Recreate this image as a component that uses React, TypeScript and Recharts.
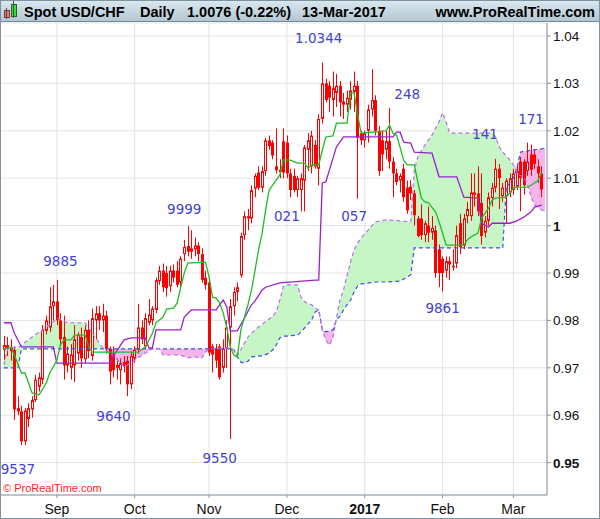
import React from "react";
import {
  ComposedChart, Bar, Line, Area, XAxis, YAxis, CartesianGrid, ReferenceDot,
} from "recharts";

// 153 daily sessions (11-Aug-2016 .. 13-Mar-2017) plus one projected cloud day
const DAYS = 154;

const monthTicks = [15, 37, 58, 80, 102, 124, 144];
const monthLabels = ["Sep", "Oct", "Nov", "Dec", "2017", "Feb", "Mar"];

const priceTicks = [0.95, 0.96, 0.97, 0.98, 0.99, 1, 1.01, 1.02, 1.03, 1.04];
const priceLabels = ["0.95", "0.96", "0.97", "0.98", "0.99", "1", "1.01", "1.02", "1.03", "1.04"];
const boldPrices = ["1", "0.95"];

// candles in pips (x 0.0001): [open, high, low, close]
const ohlc: number[][] = [
  [9738, 9767, 9716, 9748], [9748, 9765, 9725, 9740], [9742, 9760, 9715, 9735], [9738, 9745, 9590, 9612],
  [9615, 9640, 9600, 9608], [9608, 9620, 9537, 9545], [9545, 9615, 9537, 9610], [9592, 9625, 9575, 9615],
  [9612, 9640, 9595, 9632], [9632, 9685, 9628, 9675], [9660, 9690, 9650, 9680], [9675, 9790, 9665, 9780],
  [9778, 9810, 9770, 9800], [9785, 9870, 9775, 9830], [9830, 9875, 9800, 9840], [9840, 9885, 9790, 9800],
  [9800, 9815, 9745, 9760], [9765, 9810, 9675, 9705], [9705, 9745, 9690, 9730], [9700, 9750, 9675, 9728],
  [9705, 9790, 9670, 9760], [9730, 9775, 9715, 9770], [9765, 9785, 9700, 9720], [9718, 9790, 9710, 9780],
  [9780, 9800, 9720, 9735], [9725, 9825, 9715, 9805], [9800, 9830, 9760, 9815], [9815, 9830, 9780, 9800],
  [9800, 9835, 9775, 9810], [9810, 9820, 9730, 9740], [9740, 9745, 9665, 9692], [9730, 9745, 9680, 9695],
  [9700, 9720, 9675, 9706], [9695, 9720, 9665, 9710], [9712, 9725, 9690, 9705], [9715, 9725, 9640, 9665],
  [9665, 9735, 9655, 9725], [9720, 9745, 9710, 9738], [9738, 9835, 9730, 9785], [9785, 9800, 9750, 9760],
  [9745, 9815, 9740, 9805], [9795, 9845, 9790, 9812], [9800, 9830, 9790, 9825], [9822, 9890, 9815, 9885],
  [9883, 9915, 9875, 9905], [9905, 9920, 9860, 9870], [9900, 9915, 9850, 9868], [9872, 9915, 9860, 9905],
  [9905, 9918, 9880, 9890], [9905, 9925, 9870, 9875], [9880, 9935, 9870, 9930], [9940, 9970, 9925, 9955],
  [9957, 9999, 9935, 9945], [9945, 9990, 9930, 9952], [9950, 9975, 9935, 9958], [9958, 9965, 9925, 9940],
  [9940, 9952, 9880, 9885], [9890, 9905, 9865, 9875], [9880, 9890, 9725, 9732], [9745, 9750, 9690, 9728],
  [9740, 9750, 9700, 9715], [9745, 9750, 9675, 9680], [9700, 9760, 9690, 9740], [9740, 9800, 9700, 9785],
  [9785, 9845, 9550, 9830], [9830, 9870, 9810, 9860], [9860, 9880, 9840, 9870], [9895, 9985, 9890, 9978],
  [9980, 10030, 9970, 10020], [10015, 10035, 9990, 10020], [10015, 10085, 10005, 10075], [10078, 10110, 10060, 10105],
  [10112, 10125, 10075, 10080], [10080, 10125, 10070, 10115], [10115, 10185, 10105, 10180], [10180, 10190, 10160, 10168],
  [10175, 10180, 10140, 10148], [10125, 10205, 10110, 10117], [10118, 10140, 10100, 10113], [10178, 10205, 10100, 10112],
  [10175, 10190, 10100, 10110], [10110, 10120, 10060, 10075], [10105, 10120, 10070, 10075], [10075, 10105, 10060, 10100],
  [10075, 10110, 10030, 10100], [10095, 10170, 10030, 10165], [10160, 10195, 10115, 10180], [10125, 10200, 10110, 10190],
  [10170, 10180, 10120, 10125], [10120, 10235, 10085, 10225], [10225, 10344, 10215, 10300], [10300, 10310, 10260, 10265],
  [10295, 10305, 10240, 10270], [10265, 10325, 10230, 10290], [10280, 10320, 10250, 10295], [10295, 10305, 10230, 10260],
  [10255, 10280, 10225, 10262], [10255, 10285, 10240, 10270], [10265, 10305, 10245, 10285], [10282, 10325, 10240, 10295],
  [10295, 10305, 10057, 10185], [10195, 10200, 10170, 10180], [10180, 10200, 10165, 10195], [10200, 10255, 10175, 10245],
  [10245, 10330, 10230, 10265], [10265, 10275, 10190, 10200], [10200, 10210, 10105, 10115], [10180, 10200, 10115, 10150],
  [10160, 10200, 10140, 10178], [10178, 10248, 10120, 10135], [10135, 10145, 10060, 10110], [10110, 10120, 10085, 10092],
  [10095, 10110, 10070, 10105], [10120, 10130, 10050, 10060], [10080, 10095, 10025, 10032], [10082, 10096, 10054, 10068],
  [10068, 10075, 10000, 10022], [10015, 10020, 9975, 9978], [10015, 10045, 9970, 9980], [9980, 10010, 9965, 10005],
  [10000, 10040, 9965, 9985], [9985, 10020, 9970, 9995], [9990, 10000, 9890, 9900], [9950, 9960, 9870, 9900],
  [9930, 9935, 9861, 9900], [9905, 9935, 9890, 9925], [9918, 9935, 9885, 9925], [9912, 9950, 9905, 9915],
  [9920, 10000, 9910, 9980], [10005, 10025, 9940, 9955], [9958, 10025, 9950, 10015], [10020, 10050, 10005, 10035],
  [10020, 10110, 10010, 10070], [10065, 10110, 10040, 10070], [10068, 10125, 10020, 10030], [10048, 10110, 9960, 9978],
  [9985, 10020, 9975, 10010], [10010, 10070, 10000, 10060], [10058, 10090, 10040, 10080], [10080, 10141, 10070, 10120],
  [10120, 10130, 10035, 10100], [10062, 10090, 10050, 10080], [10062, 10100, 10005, 10095], [10070, 10110, 10060, 10100],
  [10075, 10120, 10065, 10110], [10082, 10125, 10075, 10115], [10135, 10145, 10030, 10100], [10135, 10140, 10065, 10085],
  [10115, 10175, 10105, 10135], [10150, 10171, 10105, 10118], [10150, 10160, 10120, 10130], [10125, 10140, 10090, 10110],
  [10110, 10125, 10060, 10076],
];

// Ichimoku lines, read at their turning points: [session, pips]
const tenkan: number[][] = [
  [0, 9740], [2, 9744], [3, 9727], [5, 9689], [6, 9689], [8, 9647], [10, 9643], [12, 9668], [13, 9689], [15, 9716],
  [16, 9748], [17, 9759], [19, 9759], [20, 9769], [23, 9769], [24, 9744], [25, 9733], [38, 9733], [40, 9744], [42, 9773],
  [43, 9795], [45, 9807], [46, 9824], [48, 9826], [49, 9837], [50, 9870], [51, 9900], [52, 9921], [57, 9923], [58, 9892],
  [59, 9849], [60, 9847], [61, 9837], [62, 9816], [63, 9786], [64, 9744], [65, 9727], [66, 9723], [67, 9780], [69, 9833],
  [70, 9864], [71, 9906], [72, 9949], [73, 9984], [74, 10033], [75, 10075], [77, 10096], [78, 10107], [79, 10138], [81, 10138],
  [83, 10132], [85, 10132], [86, 10121], [87, 10128], [89, 10128], [90, 10159], [91, 10187], [93, 10189], [94, 10216], [97, 10216],
  [98, 10280], [99, 10280], [100, 10233], [101, 10195], [108, 10200], [109, 10212], [110, 10195], [111, 10191], [113, 10138], [114, 10128],
  [116, 10128], [117, 10092], [118, 10058], [119, 10050], [120, 10048], [122, 10029], [123, 10008], [124, 9984], [125, 9959], [130, 9959],
  [131, 9970], [132, 9976], [134, 9984], [135, 10016], [137, 10037], [138, 10054], [139, 10058], [142, 10060], [144, 10079], [145, 10081],
  [148, 10081], [150, 10090], [151, 10096], [152, 10113],
];

const kijun: number[][] = [
  [0, 9795], [2, 9795], [3, 9773], [5, 9744], [14, 9744], [15, 9710], [30, 9710], [31, 9725], [33, 9748], [34, 9759],
  [36, 9763], [40, 9763], [41, 9742], [42, 9742], [43, 9780], [50, 9780], [51, 9807], [53, 9822], [60, 9822], [62, 9843],
  [63, 9829], [64, 9778], [66, 9778], [68, 9805], [70, 9833], [71, 9841], [73, 9864], [74, 9870], [78, 9879], [88, 9885],
  [89, 9885], [90, 10090], [91, 10092], [94, 10166], [96, 10187], [110, 10187], [111, 10197], [112, 10197], [113, 10176], [115, 10174],
  [116, 10155], [121, 10153], [123, 10103], [128, 10103], [130, 10060], [134, 10058], [135, 10005], [137, 9997], [138, 10005], [143, 10005],
  [145, 10010], [147, 10018], [149, 10029], [150, 10039], [152, 10043],
];

// cloud: sessions where span A / span B were read, with both spans in pips
const cloudDays = [
  0, 1, 2, 4, 5, 8, 11, 14, 15, 18,
  23, 25, 27, 28, 29, 31, 34, 36, 38, 40,
  42, 43, 44, 45, 50, 52, 54, 56, 57, 58,
  64, 65, 66, 67, 68, 69, 70, 72, 73, 75,
  76, 77, 78, 79, 80, 83, 84, 85, 87, 88,
  89, 90, 91, 92, 93, 94, 95, 96, 97, 98,
  99, 100, 101, 103, 105, 108, 112, 115, 116, 117,
  119, 121, 123, 124, 125, 126, 138, 139, 140, 141,
  142, 143, 144, 145, 146, 147, 148, 149, 150, 152,
  153,
];
const spanA = [
  9706, 9738, 9744, 9742, 9748, 9765, 9780, 9797, 9805, 9795,
  9795, 9773, 9752, 9742, 9735, 9725, 9702, 9710, 9721, 9731,
  9740, 9742, 9740, 9727, 9727, 9721, 9723, 9721, 9733, 9740,
  9742, 9738, 9727, 9738, 9752, 9765, 9773, 9786, 9792, 9803,
  9809, 9818, 9843, 9871, 9875, 9875, 9849, 9839, 9833, 9826,
  9822, 9780, 9759, 9748, 9763, 9805, 9843, 9864, 9896, 9923,
  9949, 9963, 9974, 9991, 10008, 10012, 10010, 10008, 10117, 10145,
  10170, 10191, 10219, 10238, 10219, 10195, 10195, 10187, 10166, 10155,
  10147, 10138, 10128, 10113, 10105, 10103, 10086, 10060, 10044, 10033,
  10029,
];
const spanB = [
  9700, 9700, 9700, 9700, 9740, 9740, 9740, 9740, 9740, 9740,
  9740, 9740, 9740, 9740, 9740, 9740, 9740, 9740, 9740, 9740,
  9740, 9740, 9740, 9740, 9740, 9740, 9740, 9740, 9740, 9740,
  9740, 9738, 9723, 9712, 9710, 9714, 9723, 9725, 9725, 9731,
  9738, 9748, 9763, 9767, 9767, 9769, 9776, 9784, 9801, 9818,
  9822, 9780, 9776, 9778, 9780, 9801, 9809, 9822, 9833, 9843,
  9860, 9873, 9877, 9879, 9881, 9881, 9883, 9896, 9953, 9953,
  9953, 9953, 9953, 9953, 9953, 9953, 9953, 9953, 9953, 9953,
  10081, 10090, 10100, 10122, 10155, 10157, 10157, 10160, 10160, 10162,
  10164,
];

// swing annotations: [session, level in pips, text]
const swings: [number, number, string][] = [
  [4, 9487, "9537"], [16, 9925, "9885"], [31, 9598, "9640"], [51, 10035, "9999"],
  [61, 9510, "9550"], [80, 10020, "021"], [89, 10396, "1.0344"], [99, 10020, "057"],
  [114, 10278, "248"], [124, 9826, "9861"], [136, 10193, "141"], [149, 10225, "171"],
];

const pip = (v: number) => v / 10000;
const tenkanAt = new Map(tenkan.map(([d, v]) => [d, pip(v)]));
const kijunAt = new Map(kijun.map(([d, v]) => [d, pip(v)]));

const data = Array.from({ length: DAYS }, (_, i) => {
  const c = ohlc[i];
  const k = cloudDays.indexOf(i);
  const a = k >= 0 ? pip(spanA[k]) : null;
  const b = k >= 0 ? pip(spanB[k]) : null;
  const top = a !== null && b !== null ? Math.max(a, b) : null;
  return {
    i,
    candle: c ? c.map(pip) : null,
    range: c ? [pip(c[2]), pip(c[1])] : null,
    tenkan: tenkanAt.get(i) ?? null,
    kijun: kijunAt.get(i) ?? null,
    spanA: a,
    spanB: b,
    bull: k >= 0 ? [b, top] : [null, null],
    bear: k >= 0 ? [a, top] : [null, null],
  };
});

const FONT = "'Liberation Sans', Arial, Helvetica, sans-serif";
const RED = "#ff0000";
const FRAME = "#8797a1";

function Candle(props: any) {
  const { x, y, width, height, payload } = props;
  const c = payload && payload.candle;
  if (!c || !Number.isFinite(y) || !Number.isFinite(height)) return null;
  const [o, h, l, cl] = c;
  const y0 = height >= 0 ? y : y + height;
  const hh = Math.abs(height);
  const k = h > l ? hh / (h - l) : 0;
  const cx = Math.round(x + width / 2) + 0.5;
  const top = y0 + (h - Math.max(o, cl)) * k;
  const bot = y0 + (h - Math.min(o, cl)) * k;
  const up = cl >= o;
  return (
    <g>
      <line x1={cx} x2={cx} y1={y0} y2={y0 + hh} stroke={RED} strokeWidth={1} />
      {up ? (
        <rect x={cx - 1} y={top + 0.5} width={2} height={Math.max(bot - top - 1, 0.5)} fill="#fff" stroke={RED} strokeWidth={1} />
      ) : (
        <rect x={cx - 1.5} y={top} width={3} height={Math.max(bot - top, 1)} fill={RED} />
      )}
    </g>
  );
}

function PriceTick({ x, y, payload }: any) {
  const idx = priceTicks.indexOf(payload.value);
  const text = priceLabels[idx] ?? String(payload.value);
  return (
    <text x={x} y={y + 5} textAnchor="start" fontSize={13.5} fontFamily={FONT}
      fontWeight={boldPrices.includes(text) ? 700 : 400} fill="#111">
      {text}
    </text>
  );
}

function MonthTick({ x, y, payload }: any) {
  const idx = monthTicks.indexOf(payload.value);
  const text = monthLabels[idx] ?? "";
  return (
    <text x={x} y={y + 13.5} textAnchor="middle" fontSize={14} fontFamily={FONT}
      fontWeight={text === "2017" ? 700 : 400} fill="#111">
      {text}
    </text>
  );
}

function TitleBar() {
  const txt: React.CSSProperties = {
    position: "absolute", top: 0, lineHeight: "22px", paddingTop: 1,
    fontFamily: FONT, fontWeight: 700, fontSize: 14.5, color: "#000", whiteSpace: "nowrap",
  };
  return (
    <div style={{
      position: "absolute", left: 0, top: 0, width: 600, height: 21,
      background: "linear-gradient(#dbe8f0, #b3c7d2)", borderBottom: "1px solid #6f8896",
    }}>
      <div style={{ position: "absolute", left: 4, top: 10, width: 4, height: 6, background: "#f07878", border: "1px solid #6a4040" }} />
      <div style={{ position: "absolute", left: 5.5, top: 8, width: 1, height: 11, background: "#6a4040" }} />
      <div style={{ position: "absolute", left: 11, top: 4, width: 4, height: 11, background: "#3fd83f", border: "1px solid #2c602c" }} />
      <div style={{ position: "absolute", left: 12.5, top: 1, width: 1, height: 17, background: "#2c602c" }} />
      <span style={{ ...txt, left: 24 }}>Spot USD/CHF</span>
      <span style={{ ...txt, left: 140 }}>Daily</span>
      <span style={{ ...txt, left: 187 }}>1.0076 (-0.22%)</span>
      <span style={{ ...txt, left: 302 }}>13-Mar-2017</span>
      <span style={{ ...txt, right: 5 }}>www.ProRealTime.com</span>
    </div>
  );
}

export default function App() {
  return (
    <div style={{ position: "absolute", left: 0, top: 0, width: 600, height: 519, background: "#fff", overflow: "hidden" }}>
      <div style={{ position: "absolute", left: 0, top: 22 }}>
        <ComposedChart width={600} height={497} data={data} margin={{ top: 1, right: 0, bottom: 0, left: 0 }}>
          <CartesianGrid stroke="#e3e3e3" strokeWidth={1} />
          <XAxis dataKey="i" type="category" ticks={monthTicks} interval={0} height={24}
            tickSize={3} padding={{ left: 2, right: 0 }} axisLine={{ stroke: FRAME }}
            tickLine={{ stroke: FRAME }} tick={<MonthTick />} />
          <YAxis orientation="right" width={53} type="number" domain={[0.943165, 1.042743]}
            allowDataOverflow ticks={priceTicks} interval={0} tickSize={4}
            axisLine={{ stroke: FRAME }} tickLine={{ stroke: FRAME }} tick={<PriceTick />} />
          <Area dataKey="bull" type="linear" stroke="none" fill="#c6f5c6" fillOpacity={1}
            connectNulls dot={false} activeDot={false} isAnimationActive={false} />
          <Area dataKey="bear" type="linear" stroke="none" fill="#f6b5e8" fillOpacity={1}
            connectNulls dot={false} activeDot={false} isAnimationActive={false} />
          <Bar dataKey="range" barSize={3} shape={(p: any) => <Candle {...p} />} isAnimationActive={false} />
          <Line dataKey="spanB" type="linear" stroke="#3b50e2" strokeWidth={1.2} strokeDasharray="4 3"
            connectNulls dot={false} activeDot={false} isAnimationActive={false} />
          <Line dataKey="spanA" type="linear" stroke="#b76ff0" strokeWidth={1.2} strokeDasharray="4 3"
            connectNulls dot={false} activeDot={false} isAnimationActive={false} />
          <Line dataKey="kijun" type="linear" stroke="#9a20cc" strokeWidth={1.3}
            connectNulls dot={false} activeDot={false} isAnimationActive={false} />
          <Line dataKey="tenkan" type="linear" stroke="#22bb22" strokeWidth={1.3}
            connectNulls dot={false} activeDot={false} isAnimationActive={false} />
          {swings.map(([d, lvl, text]) => (
            <ReferenceDot key={text + d} x={d} y={pip(lvl)} r={1} fill="none" stroke="none"
              label={{ value: text, position: "center", fill: "#4242cf", fontSize: 13.5, fontFamily: "'DejaVu Sans', Verdana, sans-serif" }} />
          ))}
        </ComposedChart>
      </div>
      <TitleBar />
      <div style={{ position: "absolute", left: 3, top: 482, fontFamily: FONT, fontSize: 11, color: "#ff1a1a", whiteSpace: "nowrap" }}>
        © ProRealTime.com
      </div>
      <div style={{ position: "absolute", left: 0, top: 0, width: 600, height: 519, boxSizing: "border-box", border: "1px solid #7d93a0", pointerEvents: "none" }} />
    </div>
  );
}
